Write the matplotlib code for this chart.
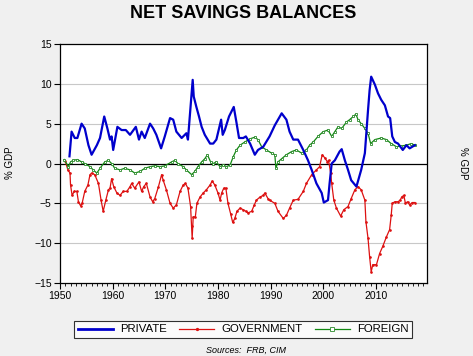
import matplotlib
matplotlib.use("Agg")
import matplotlib.pyplot as plt
from matplotlib.ticker import MultipleLocator

plt.rcParams['font.family'] = ['Liberation Sans', 'DejaVu Sans']

# values, % of GDP
private_years = [1951.8, 1952.2, 1952.8, 1953.3, 1954.1, 1954.7, 1955.4, 1956.0, 1957.0, 1957.6,
                 1958.4, 1959.0, 1959.5, 1959.8, 1960.1, 1960.9, 1961.7, 1962.5, 1963.3, 1964.4,
                 1965.0, 1965.5, 1966.1, 1967.1, 1967.7, 1968.3, 1969.2, 1969.9, 1970.9, 1971.5,
                 1972.1, 1973.1, 1974.0, 1974.3, 1975.2, 1975.4, 1975.9, 1976.4, 1976.9, 1977.5,
                 1978.5, 1979.1, 1979.7, 1980.6, 1980.9, 1981.3, 1982.1, 1983.0, 1983.5, 1984.0,
                 1984.8, 1985.3, 1986.1, 1987.0, 1987.6, 1988.6, 1989.8, 1990.8, 1992.1, 1993.0,
                 1993.6, 1994.3, 1995.2, 1996.2, 1997.1, 1997.8, 1998.7, 1999.7, 2000.1, 2000.9,
                 2001.2, 2001.6, 2002.2, 2003.1, 2003.5, 2004.1, 2004.7, 2005.3, 2006.3, 2007.2,
                 2007.9, 2008.5, 2008.8, 2009.1, 2009.8, 2010.4, 2011.0, 2011.7, 2012.3, 2012.7,
                 2013.1, 2013.6, 2014.2, 2015.1, 2015.8, 2016.4, 2017.4]
private = [0.9, 4.0, 3.2, 3.2, 5.0, 4.4, 2.3, 1.1, 2.3, 3.2,
           5.9, 4.4, 3.0, 3.4, 1.7, 4.6, 4.2, 4.2, 3.6, 4.6,
           3.0, 4.0, 3.2, 5.0, 4.4, 3.6, 1.9, 3.4, 5.7, 5.5,
           4.0, 3.2, 3.8, 3.0, 10.5, 8.4, 7.1, 5.9, 4.6, 3.6,
           2.5, 2.5, 3.0, 5.5, 3.6, 4.2, 5.9, 7.1, 5.2, 3.2,
           3.2, 3.4, 2.5, 1.1, 1.7, 2.1, 3.4, 4.8, 6.3, 5.5,
           4.0, 3.0, 3.0, 1.7, 0.4, -0.8, -2.5, -3.7, -4.9, -4.6,
           -2.5, 0.0, 0.4, 1.5, 1.8, 0.4, -0.8, -2.1, -2.9, -0.8,
           1.3, 6.7, 9.2, 10.9, 9.9, 8.8, 8.0, 7.3, 5.9, 5.7,
           3.4, 2.7, 2.5, 1.7, 2.3, 1.9, 2.3]

gov_years = [1951.0, 1951.5, 1951.9, 1952.0, 1952.3, 1952.7, 1953.2, 1953.5, 1953.9, 1954.2,
             1954.7, 1955.3, 1955.7, 1956.0, 1956.6, 1957.3, 1957.8, 1958.2, 1958.7, 1959.2,
             1959.5, 1959.8, 1960.2, 1960.8, 1961.4, 1962.0, 1962.7, 1963.3, 1963.6, 1964.2,
             1965.0, 1965.5, 1965.9, 1966.4, 1967.1, 1967.6, 1968.0, 1968.7, 1969.3, 1969.6,
             1970.2, 1970.9, 1971.5, 1972.1, 1972.8, 1973.4, 1973.8, 1974.3, 1974.8, 1975.0,
             1975.1, 1975.3, 1975.7, 1976.0, 1976.6, 1977.2, 1977.8, 1978.5, 1978.9, 1979.4,
             1980.0, 1980.4, 1980.7, 1981.1, 1981.5, 1981.9, 1982.4, 1982.8, 1983.2, 1983.6,
             1984.2, 1984.8, 1985.3, 1985.7, 1986.4, 1986.9, 1987.3, 1988.0, 1988.6, 1988.9,
             1989.5, 1989.8, 1990.8, 1991.4, 1992.4, 1993.0, 1993.6, 1994.3, 1995.2, 1996.2,
             1996.8, 1997.8, 1998.7, 1999.3, 1999.8, 2000.3, 2000.8, 2001.0, 2001.4, 2001.6,
             2002.0, 2002.5, 2003.3, 2003.9, 2004.7, 2005.3, 2006.0, 2006.6, 2007.2, 2007.9,
             2008.1, 2008.5, 2008.8, 2009.1, 2009.4, 2010.1, 2010.7, 2011.3, 2012.0, 2012.6,
             2012.9, 2013.1, 2013.6, 2014.2, 2014.6, 2014.9, 2015.3, 2015.6, 2016.0, 2016.4,
             2016.9, 2017.4]
government = [0.3, -0.8, -1.2, -2.7, -4.0, -3.5, -3.5, -4.8, -5.3, -5.0,
              -3.5, -2.7, -1.4, -1.2, -1.4, -2.5, -4.6, -6.0, -4.6, -3.3,
              -3.1, -1.9, -2.9, -3.7, -4.0, -3.5, -3.5, -2.9, -2.5, -3.1,
              -2.3, -3.5, -2.9, -2.5, -4.2, -4.8, -4.4, -2.9, -1.4, -2.1,
              -3.3, -5.0, -5.6, -5.2, -3.5, -2.7, -2.5, -3.1, -5.4, -7.9,
              -9.4, -6.7, -6.7, -5.0, -4.2, -3.7, -3.3, -2.7, -2.2, -2.7,
              -3.7, -4.6, -3.7, -3.1, -3.1, -5.0, -6.3, -7.4, -6.9, -6.0,
              -5.6, -5.8, -6.0, -6.2, -6.0, -5.2, -4.6, -4.2, -4.0, -3.7,
              -4.4, -4.6, -5.0, -6.0, -6.9, -6.5, -5.6, -4.6, -4.5, -3.5,
              -2.5, -1.4, -0.8, -0.4, 1.1, 0.7, 0.2, 0.4, -1.2, -2.5,
              -4.6, -5.6, -6.6, -5.8, -5.4, -4.4, -3.3, -2.9, -3.3, -4.6,
              -7.3, -9.4, -11.7, -13.6, -12.7, -12.7, -11.3, -10.4, -9.2, -8.3,
              -6.5, -5.0, -4.8, -4.8, -4.6, -4.2, -4.0, -5.0, -4.8, -5.2,
              -4.9, -4.9]

foreign_years = [1950.8, 1951.6, 1952.0, 1952.5, 1953.3, 1954.1, 1954.7, 1955.7, 1956.3, 1957.0,
                 1957.6, 1958.5, 1959.2, 1959.8, 1960.4, 1961.4, 1962.3, 1963.3, 1964.2, 1965.2,
                 1966.1, 1967.1, 1968.0, 1969.0, 1969.9, 1971.2, 1971.8, 1972.4, 1973.4, 1974.0,
                 1975.0, 1975.6, 1976.2, 1976.9, 1977.5, 1978.0, 1978.6, 1979.1, 1979.7, 1980.4,
                 1981.0, 1981.6, 1982.3, 1982.9, 1983.5, 1984.2, 1985.1, 1986.1, 1987.0, 1987.6,
                 1988.3, 1989.2, 1990.2, 1990.8, 1991.0, 1991.4, 1992.1, 1993.0, 1994.0, 1994.9,
                 1995.9, 1996.8, 1997.4, 1998.1, 1999.0, 2000.0, 2000.9, 2001.6, 2002.2, 2002.8,
                 2003.5, 2004.4, 2005.0, 2005.7, 2006.2, 2006.6, 2007.2, 2007.9, 2008.5, 2009.0,
                 2009.8, 2011.0, 2012.0, 2012.9, 2013.9, 2014.8, 2015.8, 2016.7, 2017.4]
foreign = [0.5, -0.4, 0.2, 0.4, 0.5, 0.2, 0.0, -0.4, -0.8, -1.2,
           -0.6, 0.2, 0.4, 0.0, -0.6, -0.8, -0.6, -0.8, -1.2, -1.0,
           -0.6, -0.4, -0.3, -0.4, -0.3, 0.2, 0.4, 0.0, -0.4, -0.8,
           -1.4, -1.0, -0.4, 0.2, 0.6, 1.1, 0.2, 0.0, 0.2, -0.4,
           -0.2, -0.4, -0.2, 0.85, 1.7, 2.3, 2.7, 3.1, 3.3, 3.0,
           2.1, 1.7, 1.3, 1.1, -0.6, 0.2, 0.6, 1.1, 1.5, 1.7,
           1.3, 1.7, 2.3, 2.7, 3.4, 4.0, 4.2, 3.4, 4.0, 4.6,
           4.4, 5.2, 5.5, 5.9, 6.2, 5.5, 5.0, 4.4, 3.8, 2.5,
           3.0, 3.2, 3.0, 2.5, 2.1, 2.2, 2.3, 2.5, 2.3]

bg = '#f0f0f0'
fig = plt.figure(figsize=(4.73, 3.56), dpi=100, facecolor=bg)
ax = fig.add_axes([60 / 473, 1 - 283 / 356, 367 / 473, 239 / 356])
ax.set_facecolor('white')

for v in [-10, -5, 5, 10]:
    ax.axhline(v, color='#c8c8c8', lw=0.8, zorder=0)
ax.axhline(0, color='black', lw=0.9, zorder=1)

ax.plot(private_years, private, color='#0000cc', lw=1.6, label='PRIVATE', zorder=3)
ax.plot(gov_years, government, color='#dd1111', lw=0.9, marker='.', markersize=1.8,
        label='GOVERNMENT', zorder=2)
ax.plot(foreign_years, foreign, color='#118811', lw=0.9, marker='s', markersize=1.8,
        markerfacecolor='white', markeredgecolor='#2a8a2a', markeredgewidth=0.6,
        label='FOREIGN', zorder=2)

ax.set_xlim(1950, 2019.7)
ax.set_ylim(-15, 15)
ax.xaxis.set_major_locator(MultipleLocator(10))
ax.xaxis.set_minor_locator(MultipleLocator(1))
ax.yaxis.set_major_locator(MultipleLocator(5))
ax.tick_params(axis='both', which='major', labelsize=7.5, direction='out', length=4, width=0.8,
               colors='black', pad=2)
ax.tick_params(axis='x', which='minor', direction='out', length=2.5, width=0.6)
ax.tick_params(axis='y', right=False)
for s in ax.spines.values():
    s.set_linewidth(0.9)

fig.text(243 / 473, 1 - 14 / 356, 'NET SAVINGS BALANCES', ha='center', va='center',
         fontsize=13, fontweight='bold')
fig.text(10 / 473, 1 - 163 / 356, '% GDP', rotation=90, ha='center', va='center', fontsize=7)
fig.text(463 / 473, 1 - 163 / 356, '% GDP', rotation=270, ha='center', va='center', fontsize=7)

leg = fig.legend(loc='center', bbox_to_anchor=(243 / 473, 1 - 329.5 / 356), ncol=3,
                 fontsize=8.2, frameon=True, fancybox=False, edgecolor='black',
                 handlelength=3.1, columnspacing=1.1, borderpad=0.3, handletextpad=0.6,
                 borderaxespad=0, markerscale=1.5)
leg.get_frame().set_linewidth(0.8)
leg.get_frame().set_facecolor('white')
leg.get_lines()[0].set_linewidth(2)

fig.text(246 / 473, 1 - 350 / 356, 'Sources:  FRB, CIM', ha='center', va='center',
         fontsize=6.5, style='italic')

fig.savefig('out.png', dpi=100, facecolor=bg)
